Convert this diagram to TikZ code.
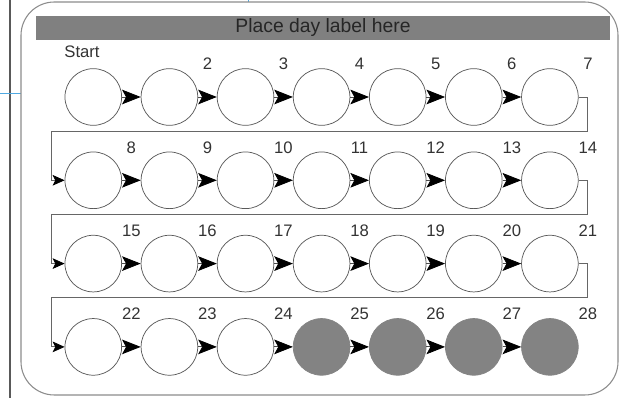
\documentclass[tikz,border=0pt]{standalone}
\usepackage{fontspec}
\setmainfont{Liberation Sans}
\usetikzlibrary{arrows.meta, calc}

\definecolor{barfill}{HTML}{808080}
\definecolor{dayfill}{HTML}{838383}
\definecolor{guideblue}{HTML}{4FA9E2}

\begin{document}
\begin{tikzpicture}[
    x=0.75pt, y=-0.75pt,
    day/.style={
        circle,
        draw=black!65,
        line width=0.55pt,
        minimum size=42.5pt,
        inner sep=0pt
    },
    done day/.style={day, draw=dayfill, fill=dayfill},
    day label/.style={
        font=\fontsize{12.5}{14}\selectfont,
        text=black!80,
        inner sep=0pt
    },
    flow/.style={draw=black!70, line width=0.6pt, -{Stealth[length=14pt, width=11pt, inset=3pt, black]}},
    wrap/.style={draw=black!60, line width=0.6pt, -{Stealth[length=9pt, width=8pt, inset=2pt, black]}}
]
    \useasboundingbox (0,0) rectangle (619,398);

    % --- Frame ---
    \draw[black!65, line width=1.5pt] (9.5,0) -- (9.5,398);
    \draw[guideblue, line width=0.6pt] (0,93) -- (21,93);
    \draw[guideblue, line width=0.6pt] (248,0) -- (248,2.5);
    \draw[black!45, line width=0.8pt, rounded corners=25pt] (21,2) rectangle (618,395);

    \node[fill=barfill, minimum width=430.5pt, minimum height=18pt, inner sep=0pt,
          font=\fontsize{14.5}{16}\selectfont, text=black!85] (title) at (323,28) {Place day label here};

    % --- Days ---
    \foreach \n in {1,...,24} {
        \pgfmathsetmacro\px{93.3+76.1*mod(\n-1,7)}
        \pgfmathsetmacro\py{97+83.3*floor((\n-1)/7)}
        \node[day] (day\n) at (\px,\py) {};
    }
    \foreach \n in {25,...,28} {
        \pgfmathsetmacro\px{93.3+76.1*mod(\n-1,7)}
        \pgfmathsetmacro\py{97+83.3*floor((\n-1)/7)}
        \node[done day] (day\n) at (\px,\py) {};
    }

    \node[day label] (lbl1) at (82,52) {Start};
    \foreach \n in {2,...,28} {
        \node[day label] (lbl\n) at ($(day\n)+(38,-33)$) {\n};
    }

    % --- Connectors ---
    \foreach \n in {1,...,27} {
        \pgfmathtruncatemacro\m{\n+1}
        \pgfmathtruncatemacro\c{mod(\n,7)}
        \ifnum\c>0
            \draw[flow] (day\n) -- (day\m);
        \fi
    }
    \foreach \n in {7,14,21} {
        \pgfmathtruncatemacro\m{\n+1}
        \draw[wrap] (day\n.east) -- ++(8.5,0) -- ++(0,34)
            -| ([xshift=-9.75pt]day\m.west) -- (day\m.west);
    }

\end{tikzpicture}
\end{document}
